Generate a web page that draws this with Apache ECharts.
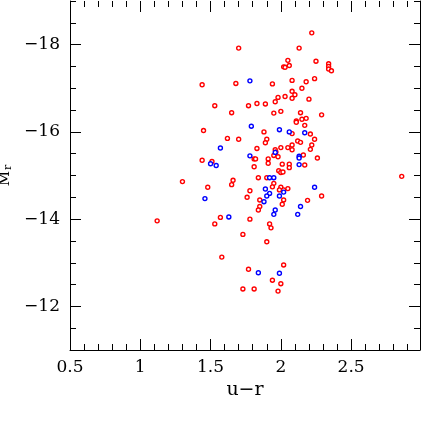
<!DOCTYPE html>
<html>
<head>
<meta charset="utf-8">
<script src="https://cdn.jsdelivr.net/npm/echarts@6/dist/echarts.min.js"></script>
<style>
  html, body { margin: 0; padding: 0; background: #fff; }
  #chart { width: 421px; height: 421px; }
</style>
</head>
<body>
<div id="chart"></div>
<script>
  // u-r colour and absolute magnitude M_r
  const redU = [2.22, 1.70, 2.13, 2.05, 2.25, 2.06, 2.02, 2.03, 2.34, 2.34, 2.34, 2.36,
    1.44, 1.68, 1.94, 2.08, 2.24, 2.18, 2.15, 2.08, 2.10, 2.08, 2.03, 1.98, 2.20, 1.96,
    1.77, 1.83, 1.89, 1.53, 1.65, 1.95, 2.00, 2.14, 2.29, 2.11, 2.11, 2.15, 2.18, 2.17,
    1.45, 1.88, 2.08, 2.21, 1.62, 1.70, 1.90, 1.89, 2.12, 2.14, 2.24, 2.08, 2.22, 1.83,
    2.00, 2.05, 1.96, 1.965, 2.21, 2.08, 1.95, 1.98, 2.16, 1.91, 1.81, 1.82, 2.26, 1.44,
    1.51, 1.91, 2.01, 2.06, 2.06, 2.17, 1.81, 1.985, 2.00, 2.015, 2.86, 1.84, 1.90, 1.30,
    1.66, 1.65, 1.95, 1.94, 2.00, 1.99, 2.02, 2.05, 1.48, 1.78, 1.76, 2.29, 1.85, 2.02,
    2.19, 1.85, 1.84, 2.01, 1.12, 1.57, 1.53, 1.78, 1.92, 1.93, 1.73, 1.90, 1.58, 2.02,
    1.77, 1.94, 2.00, 1.73, 1.81, 1.98];
  const redM = [-18.27, -17.92, -17.92, -17.64, -17.62, -17.52, -17.49, -17.48, -17.56, -17.50, -17.44, -17.40,
    -17.08, -17.11, -17.10, -17.18, -17.22, -17.15, -17.00, -16.93, -16.85, -16.77, -16.81, -16.79, -16.75, -16.69,
    -16.60, -16.65, -16.64, -16.60, -16.44, -16.43, -16.47, -16.44, -16.39, -16.25, -16.22, -16.29, -16.31, -16.15,
    -16.03, -16.00, -15.96, -15.95, -15.85, -15.83, -15.83, -15.75, -15.79, -15.76, -15.83, -15.70, -15.70, -15.62,
    -15.64, -15.64, -15.59, -15.54, -15.60, -15.59, -15.46, -15.43, -15.47, -15.38, -15.38, -15.38, -15.40, -15.35,
    -15.32, -15.28, -15.26, -15.26, -15.18, -15.24, -15.20, -15.11, -15.07, -15.08, -14.98, -14.95, -14.95, -14.86,
    -14.89, -14.79, -14.82, -14.74, -14.73, -14.67, -14.67, -14.70, -14.73, -14.65, -14.50, -14.53, -14.44, -14.44,
    -14.43, -14.29, -14.21, -14.34, -13.96, -14.04, -13.89, -14.00, -13.89, -13.80, -13.65, -13.48, -13.13, -12.95,
    -12.85, -12.60, -12.52, -12.40, -12.40, -12.35];

  const blueU = [1.78, 1.79, 1.99, 2.06, 2.17, 1.57, 1.78, 1.96, 2.13, 2.13, 1.50, 1.54, 2.13, 1.92, 1.95,
    1.46, 1.63, 1.89, 1.92, 1.90, 1.99, 2.02, 1.88, 1.96, 1.95, 2.12, 2.14, 2.24, 1.84, 1.99];
  const blueM = [-17.17, -16.13, -16.05, -16.00, -15.98, -15.63, -15.45, -15.53, -15.44, -15.40, -15.27, -15.23, -15.25, -14.95, -14.95,
    -14.47, -14.05, -14.69, -14.59, -14.53, -14.53, -14.62, -14.40, -14.21, -14.11, -14.11, -14.29, -14.73, -12.77, -12.76];

  const xMajor = [0.5, 1, 1.5, 2, 2.5];
  const yMajor = [-18, -16, -14, -12];

  const FONT = 'DejaVu Serif';
  const black = '#000';

  function xAx(pos, major, withLine, withLabel) {
    return {
      type: 'value', position: pos, min: 0.5, max: 2.99, interval: 0.1,
      axisLine: { show: withLine, onZero: false, lineStyle: { color: black, width: 1 } },
      axisTick: major
        ? { show: true, inside: true, length: 11, customValues: xMajor, lineStyle: { color: black } }
        : { show: true, inside: true, length: 6, lineStyle: { color: black } },
      axisLabel: withLabel
        ? { show: true, customValues: xMajor, margin: 9, color: black, fontFamily: FONT, fontSize: 17, formatter: (v) => String(v) }
        : { show: false },
      splitLine: { show: false },
    };
  }

  function yAx(pos, major, withLine, withLabel) {
    return {
      type: 'value', position: pos, min: -19, max: -11, interval: 0.5, inverse: true,
      axisLine: { show: withLine, onZero: false, lineStyle: { color: black, width: 1 } },
      axisTick: major
        ? { show: true, inside: true, length: 11, customValues: yMajor, lineStyle: { color: black } }
        : { show: true, inside: true, length: 6, lineStyle: { color: black } },
      axisLabel: withLabel
        ? { show: true, customValues: yMajor, margin: 10, color: black, fontFamily: FONT, fontSize: 17,
            formatter: (v) => '\u2212' + Math.abs(v) }
        : { show: false },
      splitLine: { show: false },
    };
  }

  const xAxes = [xAx('bottom', false, true, true), xAx('bottom', true, false, false),
    xAx('top', false, false, false), xAx('top', true, false, false)];
  xAxes[0].name = 'u\u2212r';
  xAxes[0].nameLocation = 'middle';
  xAxes[0].nameGap = 27;
  xAxes[0].nameTextStyle = { color: black, fontFamily: FONT, fontSize: 19 };

  const yAxes = [yAx('left', false, true, true), yAx('left', true, false, false),
    yAx('right', false, true, false), yAx('right', true, false, false)];
  yAxes[0].name = '{m|M}{s|r}';
  yAxes[0].nameLocation = 'middle';
  yAxes[0].nameRotate = 90;
  yAxes[0].nameGap = 51;
  yAxes[0].nameTextStyle = {
    color: black, fontFamily: FONT,
    rich: {
      m: { fontSize: 15, fontFamily: FONT, color: black },
      s: { fontSize: 11, fontFamily: FONT, color: black, padding: [6, 0, 0, 1] },
    },
  };

  const chart = echarts.init(document.getElementById('chart'), null, { renderer: 'canvas' });
  chart.setOption({
    animation: false,
    grid: { left: 70, right: 1, top: 1, bottom: 71, containLabel: false, outerBoundsMode: 'none' },
    xAxis: xAxes,
    yAxis: yAxes,
    series: [
      {
        name: 'red', type: 'scatter', xAxisIndex: 0, yAxisIndex: 0,
        data: redU.map((u, i) => [u, redM[i]]),
        symbol: 'circle', symbolSize: 4,
        itemStyle: { color: '#fff', borderColor: '#ff0000', borderWidth: 1.4, opacity: 1 },
      },
      {
        name: 'blue', type: 'scatter', xAxisIndex: 0, yAxisIndex: 0,
        data: blueU.map((u, i) => [u, blueM[i]]),
        symbol: 'circle', symbolSize: 4,
        itemStyle: { color: '#fff', borderColor: '#0000ff', borderWidth: 1.4, opacity: 1 },
      },
    ],
  });
</script>
</body>
</html>
